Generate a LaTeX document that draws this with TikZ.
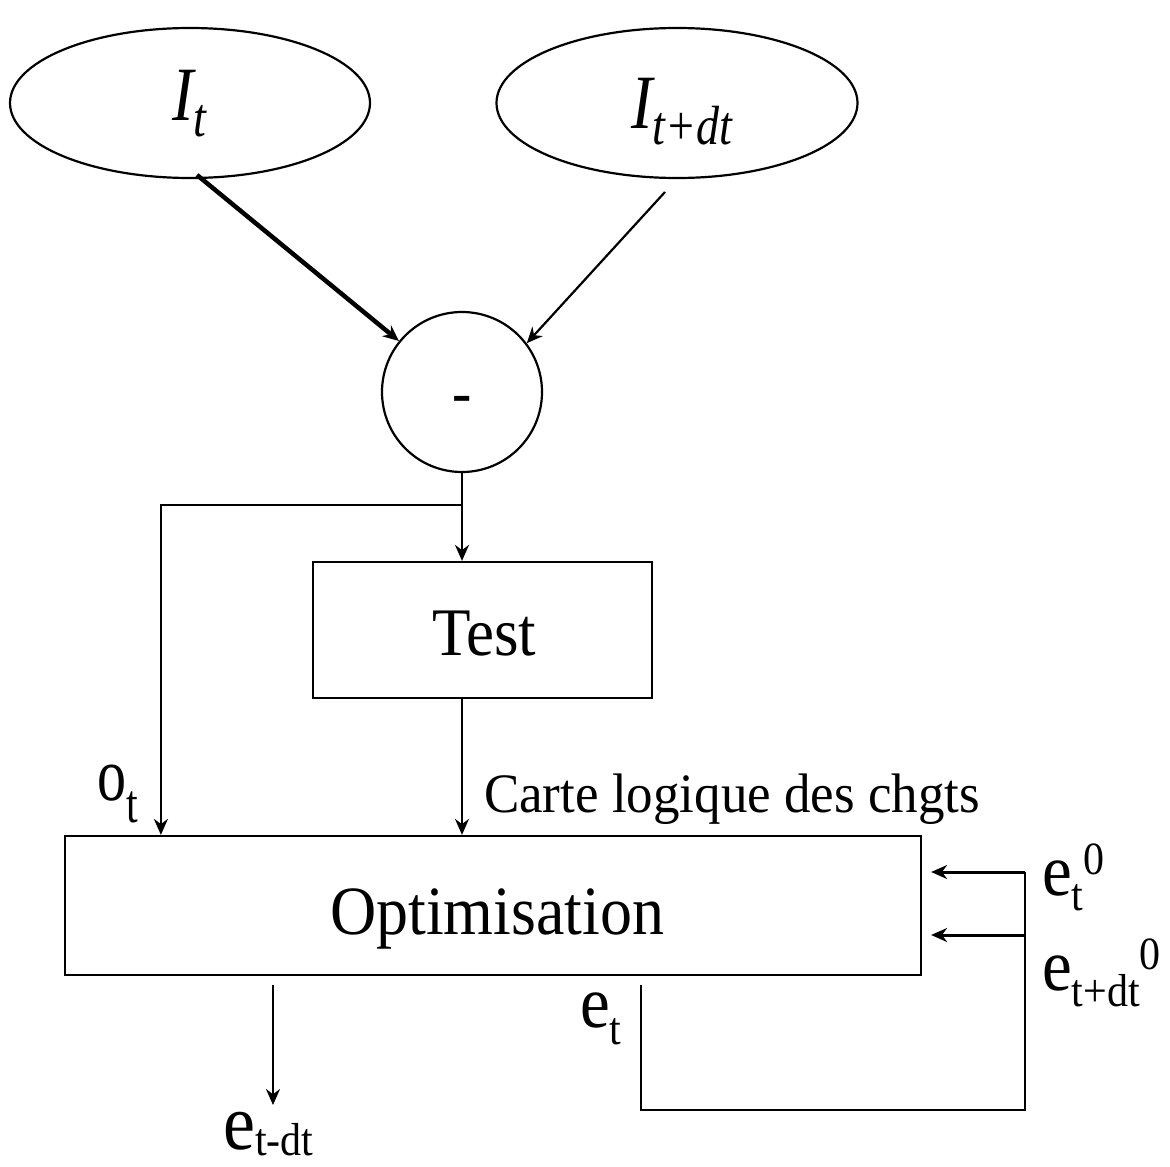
\documentclass[tikz,border=0pt]{standalone}
\usepackage{fontspec}
\setmainfont{Liberation Serif}
\usepackage{graphicx}
\usetikzlibrary{arrows.meta,shapes.geometric,calc}
\newcommand\myfs[1]{\fontsize{#1}{#1}\selectfont}
\newcommand\myvs[2]{\scalebox{1}[#1]{#2}}
\begin{document}
\begin{tikzpicture}[x=1pt,y=-1pt,line width=2.2pt,
  arr/.style={-{Stealth[length=16pt,width=14pt]}},
  ell/.style={draw,ellipse,inner sep=0pt},
  box/.style={draw,rectangle,inner sep=0pt},
  txt/.style={inner sep=0pt,anchor=base west}]
\useasboundingbox (0,0) rectangle (1170,1167);

% nodes
\node[ell,minimum width=360pt,minimum height=150pt] (It) at (190,103) {};
\node[ell,minimum width=361pt,minimum height=150pt] (Itdt) at (677,103) {};
\node[ell,minimum width=160pt,minimum height=160pt] (minus) at (462,392) {};
\node[box,minimum width=339pt,minimum height=136pt] (Test) at (482.5,630) {};
\node[box,minimum width=856pt,minimum height=139pt] (Opt) at (493,905.5) {};

% texts
\node[txt] (tIt) at (171,120) {\myvs{1.2}{\myfs{64}\itshape I\raisebox{-14pt}{\myfs{46}t}}};
\node[txt] (tItdt) at (630,128) {\myvs{1.2}{\myfs{64}\itshape I\raisebox{-14pt}{\myfs{46}t+dt}}};
\node[inner sep=0pt] (tminus) at (462,404) {\myfs{58}\textbf{-}};
\node[txt] (tTest) at (431,655) {\myvs{1.08}{\myfs{63}Test}};
\node[txt] (tOpt) at (329,934) {\myvs{1.08}{\myfs{64}Optimisation}};
\node[txt] (tCarte) at (483,812) {\myvs{1.05}{\myfs{53}Carte logique des chgts}};
\node[txt] (tot) at (96,800) {\myvs{1.3}{\myfs{58}o\raisebox{-17pt}{\myfs{42}t}}};
\node[txt] (tet0) at (1041,895) {\myvs{1.1}{\myfs{67}e\raisebox{-14pt}{\myfs{42}t}\raisebox{19pt}{\myfs{42}0}}};
\node[txt] (tetdt0) at (1041,990) {\myvs{1.1}{\myfs{67}e\raisebox{-15pt}{\myfs{42}t+dt}\raisebox{19pt}{\myfs{42}0}}};
\node[txt] (tet) at (579,1027) {\myvs{1.1}{\myfs{67}e\raisebox{-16pt}{\myfs{42}t}}};
\node[txt] (tetmdt) at (222,1149) {\myvs{1.1}{\myfs{72}e\raisebox{-6pt}{\myfs{42}t-dt}}};

% connectors
\coordinate (s1) at (197,175);
\coordinate (s2) at (665,192);
\draw[arr,line width=4.5pt] (s1) -- (minus.141);
\draw[arr] (s2) -- (minus.37);

\coordinate (j) at (462,505);
\draw (minus.south) -- (j);
\draw[arr] (j) -- (j |- Test.north);
\draw[arr] (j) -| ($(Opt.north west)+(97,0)$);
\draw[arr] (Test.south -| j) -- (Opt.north -| j);

\coordinate (eo) at (273,985);
\coordinate (ee) at (273,1105);
\draw[arr] (eo) -- (ee);

\coordinate (fb) at (641,985);
\coordinate (rb) at (1025,1110);
\coordinate (r1) at (1025,872);
\coordinate (r2) at (1025,935);
\draw (fb) |- (rb) -- (r1);
\draw[arr,line width=3pt] (r1) -- ($(Opt.east |- r1)+(9,0)$);
\draw[arr,line width=3pt] (r2) -- ($(Opt.east |- r2)+(9,0)$);
\end{tikzpicture}
\end{document}
